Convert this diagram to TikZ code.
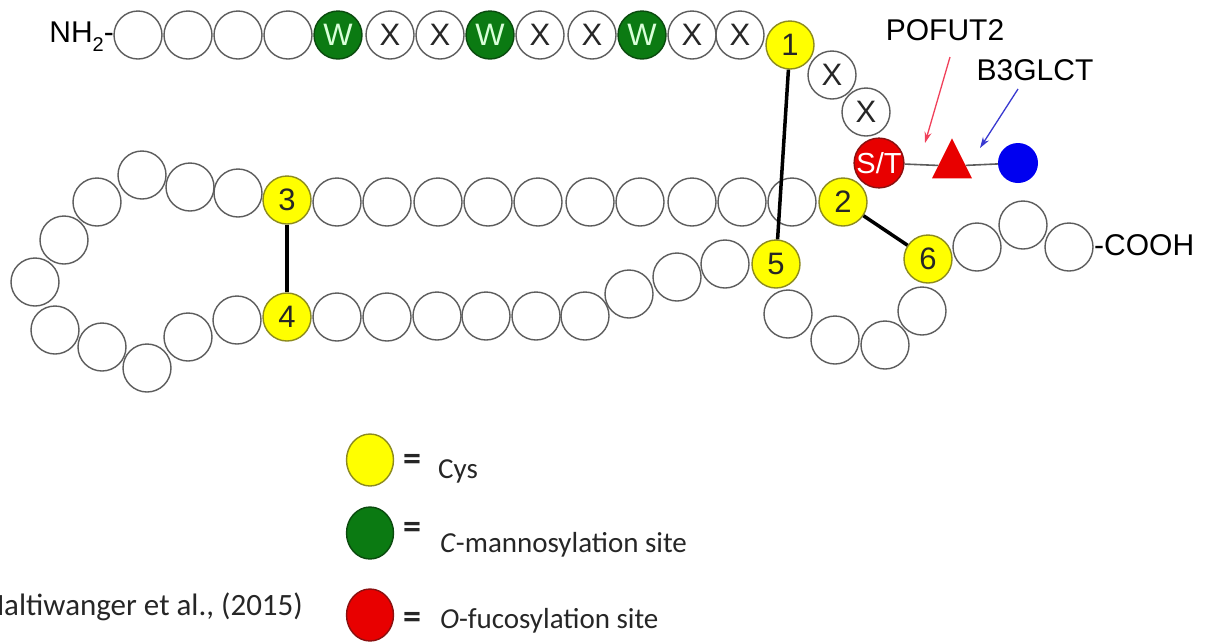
\documentclass[tikz,border=0pt]{standalone}
\usepackage{fontspec}
\setmainfont{Liberation Sans}
\newfontfamily\legendfont{Carlito}
\usetikzlibrary{shapes.geometric,arrows.meta}

\definecolor{beadline}{HTML}{5C5C5C}
\definecolor{cysfill}{HTML}{FFFF00}
\definecolor{cysline}{HTML}{8C8A1E}
\definecolor{manfill}{HTML}{0B7A12}
\definecolor{manline}{HTML}{0A4A0E}
\definecolor{mantext}{HTML}{D8FFD8}
\definecolor{fucfill}{HTML}{E80000}
\definecolor{fucline}{HTML}{8A1010}
\definecolor{glcfill}{HTML}{0000F0}
\definecolor{pofutarrow}{HTML}{F0405A}
\definecolor{glctarrow}{HTML}{3838D0}

\tikzset{
  bead/.style={circle, draw=beadline, line width=1.4pt, minimum size=48pt, inner sep=0pt,
               font=\fontsize{31}{34}\selectfont},
  xbead/.style={bead, text=black!85},
  wbead/.style={bead, fill=manfill, draw=manline, text=mantext},
  cys/.style={bead, fill=cysfill, draw=cysline, text=black!85},
  stbead/.style={bead, fill=fucfill, draw=fucline, text=white, font=\fontsize{29}{32}\selectfont},
  bond/.style={line width=3.5pt, black},
  glylink/.style={line width=1.6pt, draw=beadline},
  enzarrow/.style={line width=1.3pt, -{Stealth[length=11pt,width=7pt]}},
  lbl/.style={font=\fontsize{30}{34}\selectfont, inner sep=0pt},
  legendmark/.style={ellipse, line width=1.4pt, minimum width=47pt, minimum height=52pt, inner sep=0pt},
  legendtext/.style={font=\legendfont\fontsize{29}{33}\selectfont, inner sep=0pt, text=black!85},
  legendeq/.style={font=\legendfont\bfseries\fontsize{36}{40}\selectfont, inner sep=0pt, text=black!85},
}

\begin{document}
\begin{tikzpicture}[x=1pt, y=-1pt]
\useasboundingbox (0,0) rectangle (1210,641);

% plain residues of the chain
\foreach \px/\py [count=\i] in {
  138/35, 188/35, 238/35, 288/35,
  792/202, 742/202, 692/202, 640/202, 590/202, 538/202, 488/202, 438/202, 387/202, 337/202,
  238/193, 190/187, 142/175, 97/202, 64/240, 35/282, 55/330, 102/347, 147/368, 188/337, 237/320,
  337/317, 387/317, 437/316, 486/316, 536/316, 585/316, 629/294, 677/277, 725/264,
  788/314, 835/340, 885/345, 922/311,
  977/247, 1023/225, 1069/247}
  \node[bead] (r\i) at (\px,\py) {};

% X residues of the WxxWxxW motif and the CxxS/T motif
\foreach \px/\py [count=\i] in {390/35, 440/35, 540/35, 592/35, 692/35, 740/35, 832/75, 866/112}
  \node[xbead] (x\i) at (\px,\py) {X};

% C-mannosylated tryptophans
\foreach \px/\py [count=\i] in {338/35, 490/35, 642/35}
  \node[wbead] (w\i) at (\px,\py) {W};

% cysteines
\node[cys] (c1) at (790,45)  {1};
\node[cys] (c2) at (843,202) {2};
\node[cys] (c3) at (287,200) {3};
\node[cys] (c4) at (287,317) {4};
\node[cys] (c5) at (776,264) {5};
\node[cys] (c6) at (928,259) {6};

% O-fucosylation site with its glycan
\node[stbead] (st) at (879,163) {S/T};
\node[isosceles triangle, isosceles triangle apex angle=53, isosceles triangle stretches,
      shape border rotate=90, minimum width=40pt, minimum height=40pt, inner sep=0pt,
      fill=fucfill] (fuc) at (952,166) {};
\node[circle, fill=glcfill, minimum size=40pt, inner sep=0pt] (glc) at (1018,163) {};
\draw[glylink] (st) -- (fuc);
\draw[glylink] (fuc) -- (glc);

% disulfide bonds
\draw[bond] (c1) -- (c5);
\draw[bond] (c3) -- (c4);
\draw[bond] (c2) -- (c6);

% termini
\node[lbl, anchor=east] (nterm) at (114,37) {NH\raisebox{-0.3em}{\fontsize{20}{22}\selectfont 2}-};
\node[lbl, anchor=west] (cterm) at (1094,245) {-COOH};

% enzymes
\node[lbl] (pofut) at (945,30) {POFUT2};
\node[lbl] (b3glct) at (1035,70) {B3GLCT};
\coordinate (pofutTail) at (950,57);
\coordinate (pofutTip) at (925,143);
\coordinate (b3glctTail) at (1018,89);
\coordinate (b3glctTip) at (980,148);
\draw[enzarrow, pofutarrow] (pofutTail) -- (pofutTip);
\draw[enzarrow, glctarrow] (b3glctTail) -- (b3glctTip);

% legend
\node[legendmark, fill=cysfill, draw=cysline] (keycys) at (370,460) {};
\node[legendmark, fill=manfill, draw=manline] (keyman) at (370,533) {};
\node[legendmark, fill=fucfill, draw=fucline] (keyfuc) at (370,615) {};
\node[legendeq] (eq1) at (412,462) {=};
\node[legendeq] (eq2) at (412,530) {=};
\node[legendeq] (eq3) at (412,620) {=};
\node[legendtext, anchor=base west] (txtcys) at (438,478) {Cys};
\node[legendtext, anchor=base west] (txtman) at (440,552) {\textit{C}-mannosylation site};
\node[legendtext, anchor=base west] (txtfuc) at (440,628) {\textit{O}-fucosylation site};

% reference
\node[legendtext, font=\legendfont\fontsize{31}{35}\selectfont, anchor=base east] (cite) at (303,615) {Haltiwanger et al., (2015)};
\end{tikzpicture}
\end{document}
